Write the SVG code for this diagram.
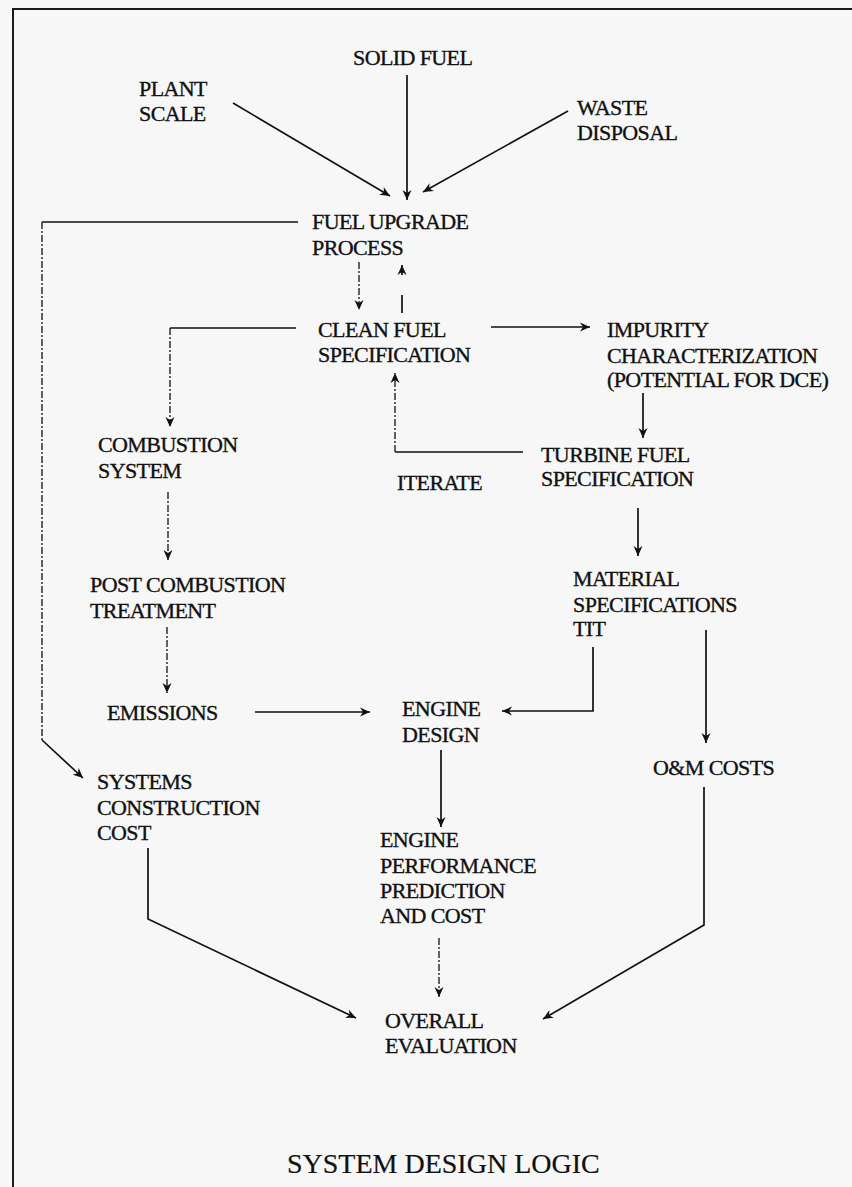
<svg xmlns="http://www.w3.org/2000/svg" width="852" height="1187" viewBox="0 0 852 1187">
<style>
.t{font-family:"Liberation Serif","Times New Roman",serif;font-size:22px;letter-spacing:-0.6px;fill:#111;stroke:#111;stroke-width:0.35}
.title{font-family:"Liberation Serif","Times New Roman",serif;font-size:28px;fill:#111;stroke:#111;stroke-width:0.2}
.c{fill:none;stroke:#111;stroke-width:1.7}
.d{fill:none;stroke:#111;stroke-width:1.3;stroke-dasharray:7 2 2 2}
.frame{fill:none;stroke:#1a1a1a;stroke-width:2}
</style>
<defs>
<marker id="ah" markerUnits="userSpaceOnUse" markerWidth="11" markerHeight="10" refX="10" refY="5" orient="auto">
<path d="M0,0.5 L10,5 L0,9.5 L3,5 z" fill="#111"/>
</marker>
</defs>
<rect x="0" y="0" width="852" height="1187" fill="#f7f7f7"/>
<g id="frame">
<path class="frame" d="M13,1187 V9 H852"/>
</g>
<g id="connectors">
<line class="c" x1="233" y1="103" x2="390" y2="196" marker-end="url(#ah)"/>
<line class="c" x1="407" y1="75" x2="407" y2="200" marker-end="url(#ah)"/>
<line class="c" x1="568" y1="111" x2="423" y2="192" marker-end="url(#ah)"/>
<path class="c" d="M298,222 H42"/>
<path class="d" d="M42,222 V740"/>
<path class="c" d="M42,740 L83,778" marker-end="url(#ah)"/>
<path class="d" d="M359,262 V310" marker-end="url(#ah)"/>
<path class="c" d="M402,313 V265" stroke-dasharray="18 20" marker-end="url(#ah)"/>
<path class="c" d="M296,328 H170"/>
<path class="d" d="M170,328 V427" marker-end="url(#ah)"/>
<path class="c" d="M491,327 H590" marker-end="url(#ah)"/>
<path class="c" d="M643,393 V438" marker-end="url(#ah)"/>
<path class="c" d="M523,452 H395"/>
<path class="d" d="M395,452 V373" marker-end="url(#ah)"/>
<path class="c" d="M638,508 V556" marker-end="url(#ah)"/>
<path class="d" d="M168,492 V560" marker-end="url(#ah)"/>
<path class="d" d="M167,627 V693" marker-end="url(#ah)"/>
<path class="c" d="M255,712 H370" marker-end="url(#ah)"/>
<path class="c" d="M593,647 V711 H502" marker-end="url(#ah)"/>
<path class="c" d="M706,630 V743" marker-end="url(#ah)"/>
<path class="c" d="M441,750 V827" marker-end="url(#ah)"/>
<path class="c" d="M704,787 V925 L543,1019" marker-end="url(#ah)"/>
<path class="c" d="M148,848 V919 L356,1018" marker-end="url(#ah)"/>
<path class="d" d="M439,938 V997" marker-end="url(#ah)"/>
</g>
<g id="solid-fuel"><text class="t" x="353" y="65">SOLID FUEL</text></g>
<g id="plant-scale"><text class="t" x="139" y="96">PLANT</text><text class="t" x="139" y="121">SCALE</text></g>
<g id="waste-disposal"><text class="t" x="577" y="115">WASTE</text><text class="t" x="577" y="140">DISPOSAL</text></g>
<g id="fuel-upgrade"><text class="t" x="312" y="229">FUEL UPGRADE</text><text class="t" x="312" y="255">PROCESS</text></g>
<g id="clean-fuel"><text class="t" x="318" y="337">CLEAN FUEL</text><text class="t" x="318" y="362">SPECIFICATION</text></g>
<g id="impurity"><text class="t" x="607" y="337">IMPURITY</text><text class="t" x="607" y="363">CHARACTERIZATION</text><text class="t" x="607" y="387">(POTENTIAL FOR DCE)</text></g>
<g id="combustion"><text class="t" x="98" y="452">COMBUSTION</text><text class="t" x="98" y="478">SYSTEM</text></g>
<g id="turbine-fuel"><text class="t" x="541" y="462">TURBINE FUEL</text><text class="t" x="541" y="486">SPECIFICATION</text></g>
<g id="iterate"><text class="t" x="397" y="490">ITERATE</text></g>
<g id="post-combustion"><text class="t" x="90" y="592">POST COMBUSTION</text><text class="t" x="90" y="618">TREATMENT</text></g>
<g id="material"><text class="t" x="573" y="586">MATERIAL</text><text class="t" x="573" y="612">SPECIFICATIONS</text><text class="t" x="573" y="636">TIT</text></g>
<g id="emissions"><text class="t" x="107" y="720">EMISSIONS</text></g>
<g id="engine-design"><text class="t" x="402" y="716">ENGINE</text><text class="t" x="402" y="742">DESIGN</text></g>
<g id="om-costs"><text class="t" x="653" y="775">O&amp;M COSTS</text></g>
<g id="systems-cost"><text class="t" x="97" y="789">SYSTEMS</text><text class="t" x="97" y="815">CONSTRUCTION</text><text class="t" x="97" y="840">COST</text></g>
<g id="engine-performance"><text class="t" x="380" y="847">ENGINE</text><text class="t" x="380" y="873">PERFORMANCE</text><text class="t" x="380" y="898">PREDICTION</text><text class="t" x="380" y="923">AND COST</text></g>
<g id="overall"><text class="t" x="385" y="1028">OVERALL</text><text class="t" x="385" y="1053">EVALUATION</text></g>
<g id="title"><text class="title" x="287" y="1173">SYSTEM DESIGN LOGIC</text></g>
</svg>
